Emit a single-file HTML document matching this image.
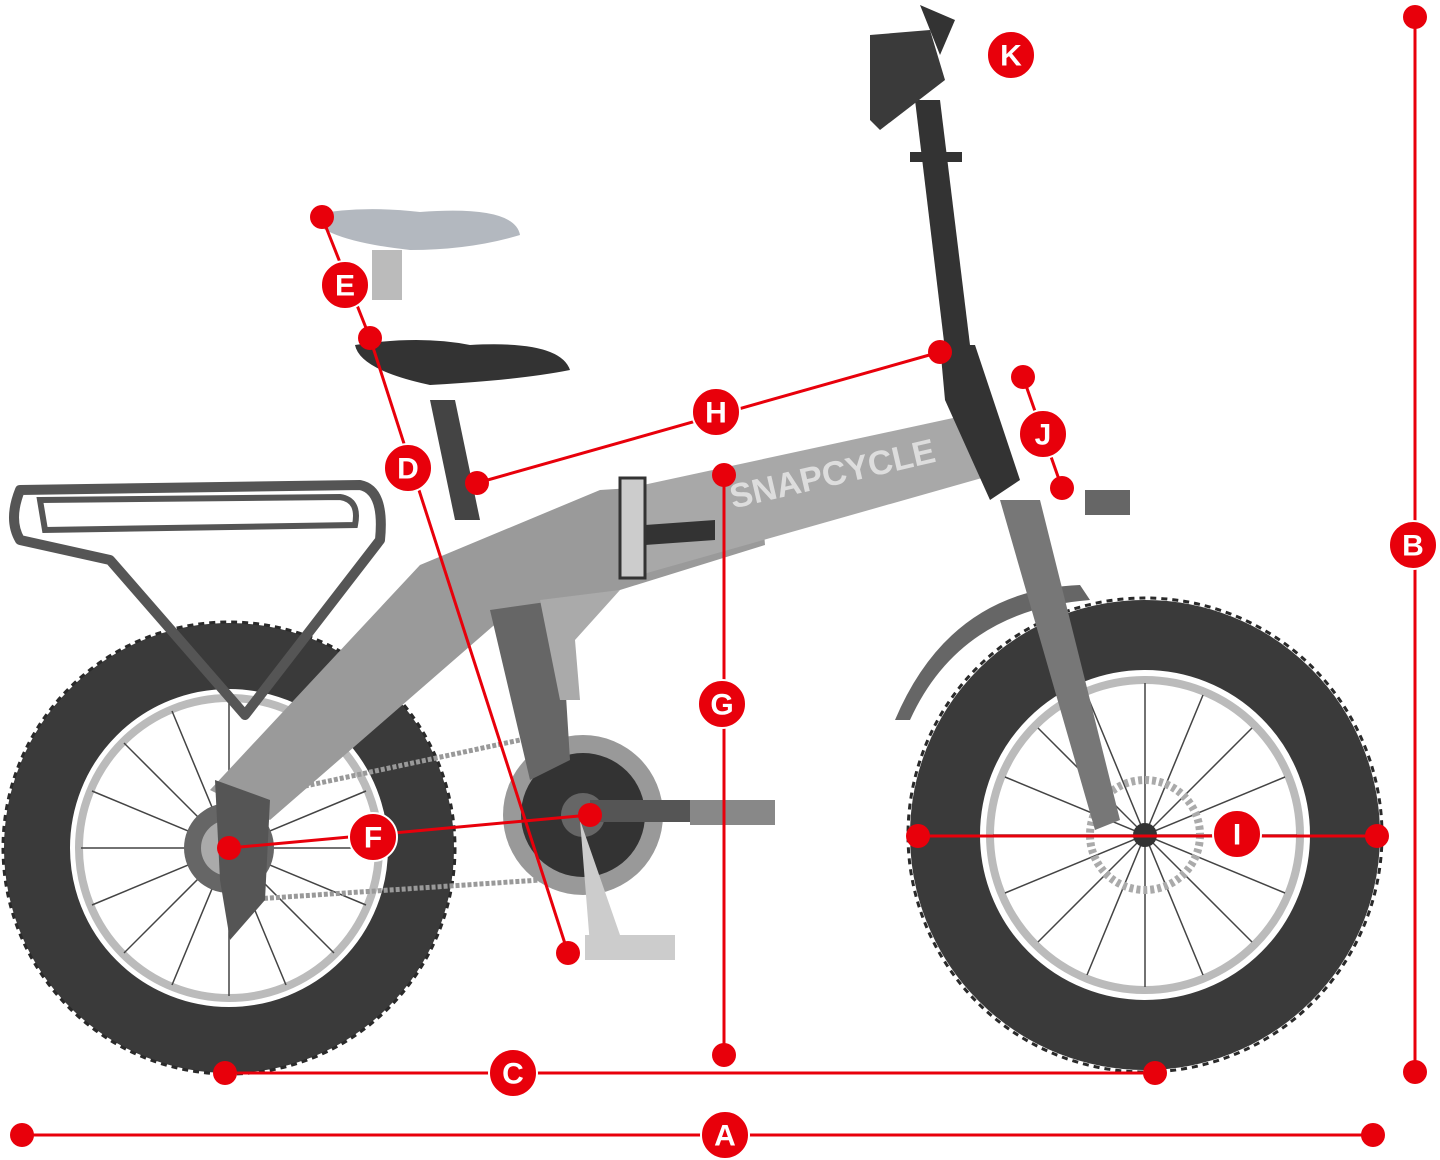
<!DOCTYPE html>
<html><head><meta charset="utf-8"><style>
html,body{margin:0;padding:0;background:#fff;}
svg{display:block}
.t{font-family:"Liberation Sans",sans-serif;font-weight:bold;font-size:30px;fill:#fff;text-anchor:middle;dominant-baseline:central}
</style></head><body>
<svg width="1440" height="1160" viewBox="0 0 1440 1160" xmlns="http://www.w3.org/2000/svg">
<!-- rear wheel -->
<circle cx="229" cy="848" r="192" fill="none" stroke="#3a3a3a" stroke-width="66"/>
<circle cx="229" cy="848" r="226" fill="none" stroke="#2a2a2a" stroke-width="3" stroke-dasharray="6 5"/>
<circle cx="229" cy="848" r="150" fill="none" stroke="#bbb" stroke-width="8"/>
<g stroke="#444" stroke-width="1.5">
<line x1="229" y1="700" x2="229" y2="996"/><line x1="81" y1="848" x2="377" y2="848"/>
<line x1="124" y1="743" x2="334" y2="953"/><line x1="124" y1="953" x2="334" y2="743"/>
<line x1="172" y1="711" x2="286" y2="985"/><line x1="286" y1="711" x2="172" y2="985"/>
<line x1="92" y1="791" x2="366" y2="905"/><line x1="92" y1="905" x2="366" y2="791"/>
</g>
<circle cx="229" cy="848" r="45" fill="#666"/><circle cx="229" cy="848" r="28" fill="#aaa"/>
<!-- front wheel -->
<circle cx="1145" cy="835" r="200" fill="none" stroke="#3a3a3a" stroke-width="70"/>
<circle cx="1145" cy="835" r="237" fill="none" stroke="#2a2a2a" stroke-width="3" stroke-dasharray="6 5"/>
<circle cx="1145" cy="835" r="155" fill="none" stroke="#bbb" stroke-width="8"/>
<g stroke="#444" stroke-width="1.5">
<line x1="1145" y1="683" x2="1145" y2="987"/><line x1="993" y1="835" x2="1297" y2="835"/>
<line x1="1038" y1="728" x2="1252" y2="942"/><line x1="1038" y1="942" x2="1252" y2="728"/>
<line x1="1087" y1="695" x2="1203" y2="975"/><line x1="1203" y1="695" x2="1087" y2="975"/>
<line x1="1005" y1="777" x2="1285" y2="893"/><line x1="1005" y1="893" x2="1285" y2="777"/>
</g>
<circle cx="1145" cy="835" r="55" fill="none" stroke="#aaa" stroke-width="8" stroke-dasharray="4 3"/>
<circle cx="1145" cy="835" r="12" fill="#333"/>
<!-- fender front -->
<path d="M895 720 Q950 590 1080 585 L1090 600 Q960 610 910 720 Z" fill="#666"/>
<!-- rack -->
<path d="M20 490 L360 485 Q385 490 380 540 L245 715 L110 560 L20 540 Q8 520 20 490 Z" fill="none" stroke="#555" stroke-width="10" stroke-linejoin="round"/>
<path d="M40 500 L340 497 Q360 500 355 525 L45 530 Z" fill="none" stroke="#555" stroke-width="6"/>
<!-- chainring -->
<circle cx="583" cy="815" r="80" fill="#999"/><circle cx="583" cy="815" r="62" fill="#333"/>
<circle cx="583" cy="815" r="22" fill="#666"/>
<path d="M240 800 L520 740 M240 900 L540 880" stroke="#999" stroke-width="5" stroke-dasharray="4 2"/>
<rect x="590" y="800" width="100" height="22" fill="#555"/><rect x="690" y="800" width="85" height="25" fill="#888"/>
<path d="M580 820 L620 935 L590 945 Z" fill="#ccc"/><rect x="585" y="935" width="90" height="25" fill="#ccc"/>
<!-- frame -->
<path d="M210 790 L420 565 L600 490 L760 480 L765 545 L620 590 L500 620 L270 820 Z" fill="#9a9a9a"/>
<path d="M620 490 L990 410 L1010 470 L640 575 Z" fill="#a8a8a8"/>
<path d="M490 610 L560 600 L570 760 L530 780 Z" fill="#666"/>
<path d="M540 600 L620 590 L575 640 L580 700 L560 700 Z" fill="#aaa"/>
<text x="835" y="485" transform="rotate(-13 835 485)" font-family="Liberation Sans,sans-serif" font-weight="bold" font-size="34" fill="#ddd" text-anchor="middle">SNAPCYCLE</text>
<rect x="620" y="478" width="25" height="100" fill="#ccc" stroke="#333" stroke-width="3"/>
<path d="M645 525 L715 520 L715 540 L645 545 Z" fill="#333"/>
<!-- seat post -->
<path d="M430 400 L455 400 L480 520 L455 520 Z" fill="#444"/>
<path d="M355 345 Q420 335 470 345 Q560 340 570 370 Q520 380 430 385 Q360 370 355 345 Z" fill="#333"/>
<path d="M310 215 Q360 205 420 212 Q515 205 520 235 Q470 250 410 250 Q320 240 310 215 Z" fill="#b3b8bf"/>
<rect x="372" y="250" width="30" height="50" fill="#bbb"/>
<!-- stem/fork -->
<path d="M915 100 L940 100 L970 345 L945 350 Z" fill="#333"/>
<path d="M940 345 L975 345 L1020 480 L990 500 L945 400 Z" fill="#333"/>
<path d="M1000 500 L1040 500 L1120 820 L1095 830 Z" fill="#777"/>
<rect x="910" y="152" width="52" height="10" fill="#333"/>
<path d="M870 35 L930 30 L945 80 L880 130 L870 120 Z" fill="#3a3a3a"/>
<path d="M920 5 L955 20 L940 55 Z" fill="#333"/>
<rect x="1085" y="490" width="45" height="25" fill="#666"/>
<path d="M215 780 L270 800 L265 900 L230 940 L220 880 Z" fill="#555"/>
<!-- measurement lines -->
<g stroke="#e8000b" stroke-width="3" fill="none">
<line x1="22" y1="1135" x2="1373" y2="1135"/>
<line x1="1415" y1="17" x2="1415" y2="1072"/>
<line x1="225" y1="1073" x2="1155" y2="1073"/>
<line x1="724" y1="475" x2="724" y2="1055"/>
<line x1="477" y1="483" x2="940" y2="352"/>
<line x1="370" y1="338" x2="568" y2="953"/>
<line x1="322" y1="217" x2="370" y2="338"/>
<line x1="229" y1="848" x2="590" y2="815"/>
<line x1="918" y1="836" x2="1377" y2="836"/>
<line x1="1023" y1="377" x2="1062" y2="488"/>
</g>
<g fill="#e8000b">
<circle cx="22" cy="1135" r="12"/><circle cx="1373" cy="1135" r="12"/>
<circle cx="1415" cy="17" r="12"/><circle cx="1415" cy="1072" r="12"/>
<circle cx="225" cy="1073" r="12"/><circle cx="1155" cy="1073" r="12"/>
<circle cx="724" cy="475" r="12"/><circle cx="724" cy="1055" r="12"/>
<circle cx="477" cy="483" r="12"/><circle cx="940" cy="352" r="12"/>
<circle cx="370" cy="338" r="12"/><circle cx="568" cy="953" r="12"/>
<circle cx="322" cy="217" r="12"/>
<circle cx="229" cy="848" r="12"/><circle cx="590" cy="815" r="12"/>
<circle cx="918" cy="836" r="12"/><circle cx="1377" cy="836" r="12"/>
<circle cx="1023" cy="377" r="12"/><circle cx="1062" cy="488" r="12"/>
</g>
<g fill="#e8000b" stroke="#fff" stroke-width="2">
<circle cx="725" cy="1135" r="24"/><circle cx="1413" cy="545" r="24"/>
<circle cx="513" cy="1073" r="24"/><circle cx="722" cy="704" r="24"/>
<circle cx="716" cy="412" r="24"/><circle cx="408" cy="468" r="24"/>
<circle cx="345" cy="285" r="24"/><circle cx="373" cy="837" r="24"/>
<circle cx="1237" cy="834" r="24"/><circle cx="1043" cy="434" r="24"/>
<circle cx="1011" cy="55" r="24"/>
</g>
<text class="t" x="725" y="1136">A</text><text class="t" x="1413" y="546">B</text>
<text class="t" x="513" y="1074">C</text><text class="t" x="722" y="705">G</text>
<text class="t" x="716" y="413">H</text><text class="t" x="408" y="469">D</text>
<text class="t" x="345" y="286">E</text><text class="t" x="373" y="838">F</text>
<text class="t" x="1237" y="835">I</text><text class="t" x="1043" y="435">J</text>
<text class="t" x="1011" y="56">K</text>
</svg>
</body></html>
